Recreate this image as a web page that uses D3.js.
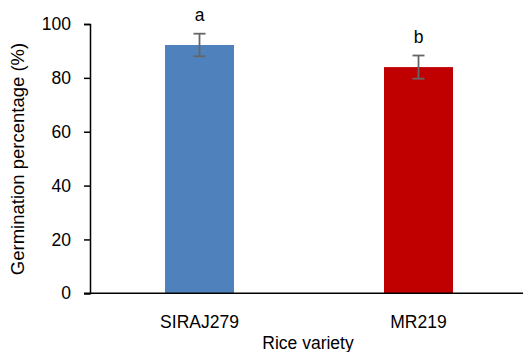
<!DOCTYPE html>
<html><head><meta charset="utf-8">
<script src="https://cdn.jsdelivr.net/npm/d3@7"></script>
<style>body{margin:0;background:#fff}svg{display:block}</style>
</head><body>
<svg id="c" width="524" height="352"></svg>
<script>
const categories = ["SIRAJ279", "MR219"];
const values = [92.2, 84.0];
const errors = [4.2, 4.3];
const letters = ["a", "b"];
const colors = ["#4f81bd", "#c00000"];
const yTicks = [0, 20, 40, 60, 80, 100];

const svg = d3.select("#c");
const font = "Liberation Sans, Arial, sans-serif";
const x = d3.scaleBand().domain(categories).range([90, 528]).padding(0);
const y = d3.scaleLinear().domain([0, 100]).range([293.3, 24]);
const bw = x.bandwidth() * 0.315;

// y axis
const ya = svg.append("g").attr("transform", "translate(90,0)")
  .call(d3.axisLeft(y).tickValues(yTicks).tickSize(6).tickPadding(13));
ya.select(".domain").attr("stroke", "#000").attr("stroke-width", 1.5);
ya.selectAll(".tick line").attr("stroke", "#000").attr("stroke-width", 1.5);
ya.selectAll(".tick text").attr("font-family", font).attr("font-size", 17.5).attr("fill", "#000");

// bars
svg.selectAll("rect.bar").data(categories).enter().append("rect")
  .attr("x", d => x(d) + x.bandwidth()/2 - bw/2)
  .attr("width", bw)
  .attr("y", (d,i) => y(values[i]))
  .attr("height", (d,i) => y(0) - y(values[i]))
  .attr("fill", (d,i) => colors[i]);

// x axis line
svg.append("line").attr("x1", 84).attr("x2", 523).attr("y1", y(0)).attr("y2", y(0))
  .attr("stroke", "#000").attr("stroke-width", 1.5);

// error bars
const eb = svg.selectAll("g.eb").data(categories).enter().append("g")
  .attr("stroke", "#666").attr("stroke-width", 1.8);
eb.append("line")
  .attr("x1", d => x(d) + x.bandwidth()/2).attr("x2", d => x(d) + x.bandwidth()/2)
  .attr("y1", (d,i) => y(values[i] + errors[i])).attr("y2", (d,i) => y(values[i] - errors[i]));
[1, -1].forEach(s => {
  eb.append("line")
    .attr("x1", d => x(d) + x.bandwidth()/2 - 6).attr("x2", d => x(d) + x.bandwidth()/2 + 6)
    .attr("y1", (d,i) => y(values[i] + s*errors[i])).attr("y2", (d,i) => y(values[i] + s*errors[i]));
});

// letters
svg.selectAll("text.let").data(categories).enter().append("text")
  .attr("x", d => x(d) + x.bandwidth()/2)
  .attr("y", (d,i) => y(values[i] + errors[i]) - 13)
  .attr("text-anchor", "middle").attr("font-family", font).attr("font-size", 17.5)
  .text((d,i) => letters[i]);

// x labels
svg.selectAll("text.xl").data(categories).enter().append("text")
  .attr("x", d => x(d) + x.bandwidth()/2).attr("y", 328)
  .attr("text-anchor", "middle").attr("font-family", font).attr("font-size", 17.5)
  .text(d => d);

svg.append("text").attr("x", 308).attr("y", 349).attr("text-anchor", "middle")
  .attr("font-family", font).attr("font-size", 17.5).text("Rice variety");

svg.append("text").attr("transform", "translate(24,159) rotate(-90)")
  .attr("text-anchor", "middle").attr("font-family", font).attr("font-size", 18.5)
  .text("Germination percentage (%)");
</script>
</body></html>
